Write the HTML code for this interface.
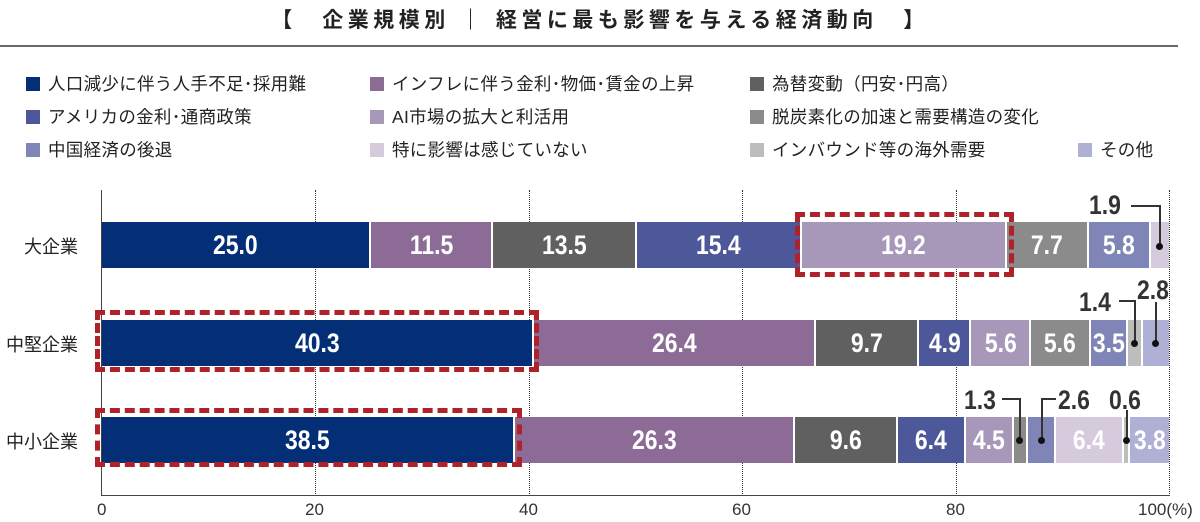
<!DOCTYPE html>
<html><head><meta charset="utf-8"><style>
*{margin:0;padding:0;box-sizing:border-box}
body{width:1200px;height:522px;background:#fff;position:relative;overflow:hidden;font-family:"Liberation Sans","Noto Sans CJK JP",sans-serif;color:#222}
.a{position:absolute}
.title{left:0;width:1200px;top:4px;text-align:center;font-size:21px;font-weight:bold;letter-spacing:4.5px}
.rule{left:0;top:45px;width:1178px;height:2px;background:#6a6a6a}
.lg{position:absolute;font-size:17.5px;line-height:20px;white-space:nowrap;letter-spacing:0.3px}
.lg i{display:inline-block;width:14px;height:14px;margin-right:8px;vertical-align:-1px}
.grid{position:absolute;top:190px;height:306px;border-left:1px dotted #333;width:0}
.bar{position:absolute;left:102px;width:1067px;height:46px;display:flex}
.bar div{flex:none;height:100%;border-left:2px solid #fff;color:#fff;font-weight:bold;font-size:27px;display:flex;align-items:center;justify-content:center;overflow:visible;white-space:nowrap}
.bar div span{display:inline-block;transform:scaleX(0.85)}
.bar div:first-child{border-left:none}
.rl{position:absolute;font-size:18px;right:1122px;text-align:right}
.box{position:absolute;border:5px dashed #b0222a}
.cl{position:absolute;font-weight:bold;font-size:27px;color:#333;transform:scaleX(0.85);transform-origin:left}
.dot{position:absolute;width:7px;height:7px;border-radius:50%;background:#111}
.ln{position:absolute;background:#333}
.ax{position:absolute;top:500px;font-size:17px;color:#333}
</style></head><body>
<div class="a title">【　企業規模別 ｜ 経営に最も影響を与える経済動向　】</div>
<div class="a rule"></div>

<div class="lg" style="left:26px;top:74px"><i style="background:#042f77"></i>人口減少に伴う人手不足･採用難</div>
<div class="lg" style="left:26px;top:107px"><i style="background:#4c5899"></i>アメリカの金利･通商政策</div>
<div class="lg" style="left:26px;top:140px"><i style="background:#7f85b6"></i>中国経済の後退</div>
<div class="lg" style="left:370px;top:74px"><i style="background:#8c6b96"></i>インフレに伴う金利･物価･賃金の上昇</div>
<div class="lg" style="left:370px;top:107px"><i style="background:#a797b9"></i>AI市場の拡大と利活用</div>
<div class="lg" style="left:370px;top:140px"><i style="background:#d6cadd"></i>特に影響は感じていない</div>
<div class="lg" style="left:750px;top:74px"><i style="background:#606060"></i>為替変動（円安･円高）</div>
<div class="lg" style="left:750px;top:107px"><i style="background:#8b8b8b"></i>脱炭素化の加速と需要構造の変化</div>
<div class="lg" style="left:750px;top:140px"><i style="background:#bdbdbd"></i>インバウンド等の海外需要</div>
<div class="lg" style="left:1078px;top:140px"><i style="background:#aeb0d6"></i>その他</div>

<div class="grid" style="left:315px"></div>
<div class="grid" style="left:529px"></div>
<div class="grid" style="left:742px"></div>
<div class="grid" style="left:956px"></div>
<div class="grid" style="left:1169px"></div>
<div class="a" style="left:101px;top:190px;width:1px;height:306px;background:#444"></div>
<div class="a" style="left:101px;top:495px;width:1069px;height:1px;background:#444"></div>

<div class="rl" style="top:233px">大企業</div>
<div class="rl" style="top:331px">中堅企業</div>
<div class="rl" style="top:428px">中小企業</div>

<div class="bar" style="top:222px">
<div style="width:25%;background:#042f77"><span>25.0</span></div>
<div style="width:11.5%;background:#8c6b96"><span>11.5</span></div>
<div style="width:13.5%;background:#606060"><span>13.5</span></div>
<div style="width:15.4%;background:#4c5899"><span>15.4</span></div>
<div style="width:19.2%;background:#a797b9"><span>19.2</span></div>
<div style="width:7.7%;background:#8b8b8b"><span>7.7</span></div>
<div style="width:5.8%;background:#7f85b6"><span>5.8</span></div>
<div style="width:1.9%;background:#d6cadd"></div>
</div>
<div class="bar" style="top:320px">
<div style="width:40.3%;background:#042f77"><span>40.3</span></div>
<div style="width:26.4%;background:#8c6b96"><span>26.4</span></div>
<div style="width:9.7%;background:#606060"><span>9.7</span></div>
<div style="width:4.9%;background:#4c5899"><span>4.9</span></div>
<div style="width:5.6%;background:#a797b9"><span>5.6</span></div>
<div style="width:5.6%;background:#8b8b8b"><span>5.6</span></div>
<div style="width:3.5%;background:#7f85b6"><span>3.5</span></div>
<div style="width:1.4%;background:#bdbdbd"></div>
<div style="width:2.6%;background:#aeb0d6"></div>
</div>
<div class="bar" style="top:417px">
<div style="width:38.5%;background:#042f77"><span>38.5</span></div>
<div style="width:26.3%;background:#8c6b96"><span>26.3</span></div>
<div style="width:9.6%;background:#606060"><span>9.6</span></div>
<div style="width:6.4%;background:#4c5899"><span>6.4</span></div>
<div style="width:4.5%;background:#a797b9"><span>4.5</span></div>
<div style="width:1.3%;background:#8b8b8b"></div>
<div style="width:2.6%;background:#7f85b6"></div>
<div style="width:6.4%;background:#d6cadd"><span>6.4</span></div>
<div style="width:0.6%;background:#bdbdbd"></div>
<div style="width:3.8%;background:#aeb0d6"><span>3.8</span></div>
</div>

<div class="box" style="left:795px;top:212px;width:219px;height:65px"></div>
<div class="box" style="left:95px;top:310px;width:444px;height:62px"></div>
<div class="box" style="left:95px;top:408px;width:427px;height:59px"></div>

<div class="cl" style="left:1089px;top:190px">1.9</div>
<div class="ln" style="left:1131px;top:205px;width:29px;height:1.5px"></div>
<div class="ln" style="left:1159px;top:205px;width:1.5px;height:40px"></div>
<div class="dot" style="left:1156px;top:243px"></div>

<div class="cl" style="left:1079px;top:287px">1.4</div>
<div class="ln" style="left:1119px;top:300px;width:16px;height:1.5px"></div>
<div class="ln" style="left:1134px;top:300px;width:1.5px;height:42px"></div>
<div class="dot" style="left:1131px;top:340px"></div>
<div class="cl" style="left:1137px;top:275px">2.8</div>
<div class="ln" style="left:1155px;top:302px;width:1.5px;height:40px"></div>
<div class="dot" style="left:1152px;top:340px"></div>

<div class="cl" style="left:964px;top:385px">1.3</div>
<div class="ln" style="left:1002px;top:398px;width:18px;height:1.5px"></div>
<div class="ln" style="left:1019px;top:398px;width:1.5px;height:41px"></div>
<div class="dot" style="left:1016px;top:437px"></div>
<div class="ln" style="left:1041px;top:398px;width:15px;height:1.5px"></div>
<div class="ln" style="left:1041px;top:398px;width:1.5px;height:41px"></div>
<div class="dot" style="left:1038px;top:437px"></div>
<div class="cl" style="left:1058px;top:385px">2.6</div>
<div class="cl" style="left:1109px;top:385px">0.6</div>
<div class="ln" style="left:1126px;top:410px;width:1.5px;height:29px"></div>
<div class="dot" style="left:1123px;top:437px"></div>

<div class="ax" style="left:97px">0</div>
<div class="ax" style="left:305px">20</div>
<div class="ax" style="left:519px">40</div>
<div class="ax" style="left:732px">60</div>
<div class="ax" style="left:946px">80</div>
<div class="ax" style="left:1138px">100(%)</div>
</body></html>
